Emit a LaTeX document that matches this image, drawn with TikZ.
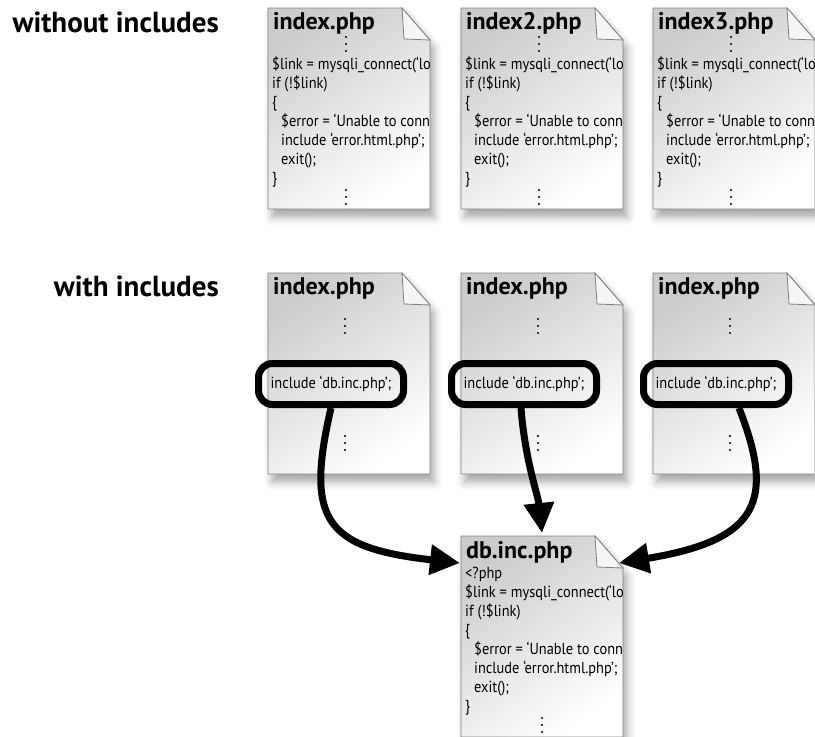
\documentclass[tikz,border=0pt]{standalone}
\usepackage{fontspec}
\setmainfont{PT Sans}
\newfontfamily\codefont[FakeStretch=0.9, Ligatures=TeX]{PT Sans}
\usetikzlibrary{calc, arrows.meta, shadows.blur}

\tikzset{
  page/.style={draw=gray, line width=0.8pt, shading=axis, top color=gray!40,
    bottom color=white, shading angle=35,
    blur shadow={shadow xshift=4pt, shadow yshift=-8pt, shadow blur radius=8pt, shadow opacity=35}},
  fold/.style={draw=gray, line width=0.8pt, fill=gray!8},
  doctitle/.style={anchor=base west, inner sep=0pt, font=\bfseries\fontsize{24}{24}\selectfont},
  codeline/.style={anchor=base west, inner sep=0pt, font=\codefont\fontsize{16}{16}\selectfont},
  rowlabel/.style={anchor=base east, inner sep=0pt, font=\bfseries\fontsize{29}{29}\selectfont},
  incbox/.style={draw, line width=7pt, rounded corners=14pt, minimum width=145pt,
    minimum height=41pt, inner sep=0pt, font=\codefont\fontsize{16}{16}\selectfont},
  link/.style={line width=7pt, -{Triangle[length=30pt, width=29pt]}}
}

\begin{document}
\begin{tikzpicture}[x=1pt, y=-1pt]
  \useasboundingbox (0,0) rectangle (815,737);

  % row labels
  \node[rowlabel] (without) at (219,32) {without includes};
  \node[rowlabel] (with) at (219,296) {with includes};

  % without includes
  \foreach \x/\name in {268/index.php, 461/index2.php, 653/index3.php}{
    \begin{scope}[shift={(\x,8)}]
      \draw[page] (0,0) -- (134,0) -- (162,32) -- (162,201) -- (0,201) -- cycle;
      \draw[fold] (134,0) -- (136,31) -- (162,32) -- cycle;
      \node[doctitle] at (5,21) {\name};
      \begin{scope}
        \clip (0,0) rectangle (161,201);
        \foreach \d in {-7,0,7} \fill (78,36+\d) circle (1.1pt);
        \node[codeline] at (4,61) {\$link = mysqli\_connect(`lo};
        \node[codeline] at (4,80) {if (!\$link)};
        \node[codeline] at (4,99) {\{};
        \node[codeline] at (13,118) {\$error = `Unable to conn};
        \node[codeline] at (13,137) {include `error.html.php';};
        \node[codeline] at (13,156) {exit();};
        \node[codeline] at (4,175) {\}};
        \foreach \d in {-7,0,7} \fill (78,189+\d) circle (1.1pt);
      \end{scope}
    \end{scope}
  }

  % with includes
  \foreach \x [count=\i] in {268, 461, 653}{
    \begin{scope}[shift={(\x,273)}]
      \draw[page] (0,0) -- (134,0) -- (162,32) -- (162,201) -- (0,201) -- cycle;
      \draw[fold] (134,0) -- (136,31) -- (162,32) -- cycle;
      \node[doctitle] at (5,21) {index.php};
      \foreach \d in {-7,0,7} \fill (77,53+\d) circle (1.1pt);
      \foreach \d in {-7,0,7} \fill (77,170+\d) circle (1.1pt);
    \end{scope}
    \node[incbox] (inc\i) at (\x+63,384) {include `db.inc.php';};
  }

  % db.inc.php
  \begin{scope}[shift={(461,536)}]
    \draw[page] (0,0) -- (134,0) -- (162,32) -- (162,201) -- (0,201) -- cycle;
    \draw[fold] (134,0) -- (136,31) -- (162,32) -- cycle;
    \node[doctitle] at (5,22) {db.inc.php};
    \begin{scope}
      \clip (0,0) rectangle (161,201);
      \node[codeline] at (4,42) {<?php};
      \node[codeline] at (4,61) {\$link = mysqli\_connect(`lo};
      \node[codeline] at (4,80) {if (!\$link)};
      \node[codeline] at (4,99) {\{};
      \node[codeline] at (13,118) {\$error = `Unable to conn};
      \node[codeline] at (13,137) {include `error.html.php';};
      \node[codeline] at (13,156) {exit();};
      \node[codeline] at (4,175) {\}};
      \foreach \d in {-7,0,7} \fill (81,189+\d) circle (1.1pt);
    \end{scope}
  \end{scope}

  \coordinate (dbL) at (460,563);
  \coordinate (dbT) at (542,533);
  \coordinate (dbR) at (619,563);

  % connectors
  \draw[link] (inc1.south) .. controls (305,520) and (325,548) .. (dbL);
  \draw[link] ($(inc2.south)+(-3,0)$) .. controls (525,460) and (538,495) .. (dbT);
  \draw[link] ($(inc3.south)+(23,0)$) .. controls (775,500) and (760,540) .. (dbR);
\end{tikzpicture}
\end{document}
